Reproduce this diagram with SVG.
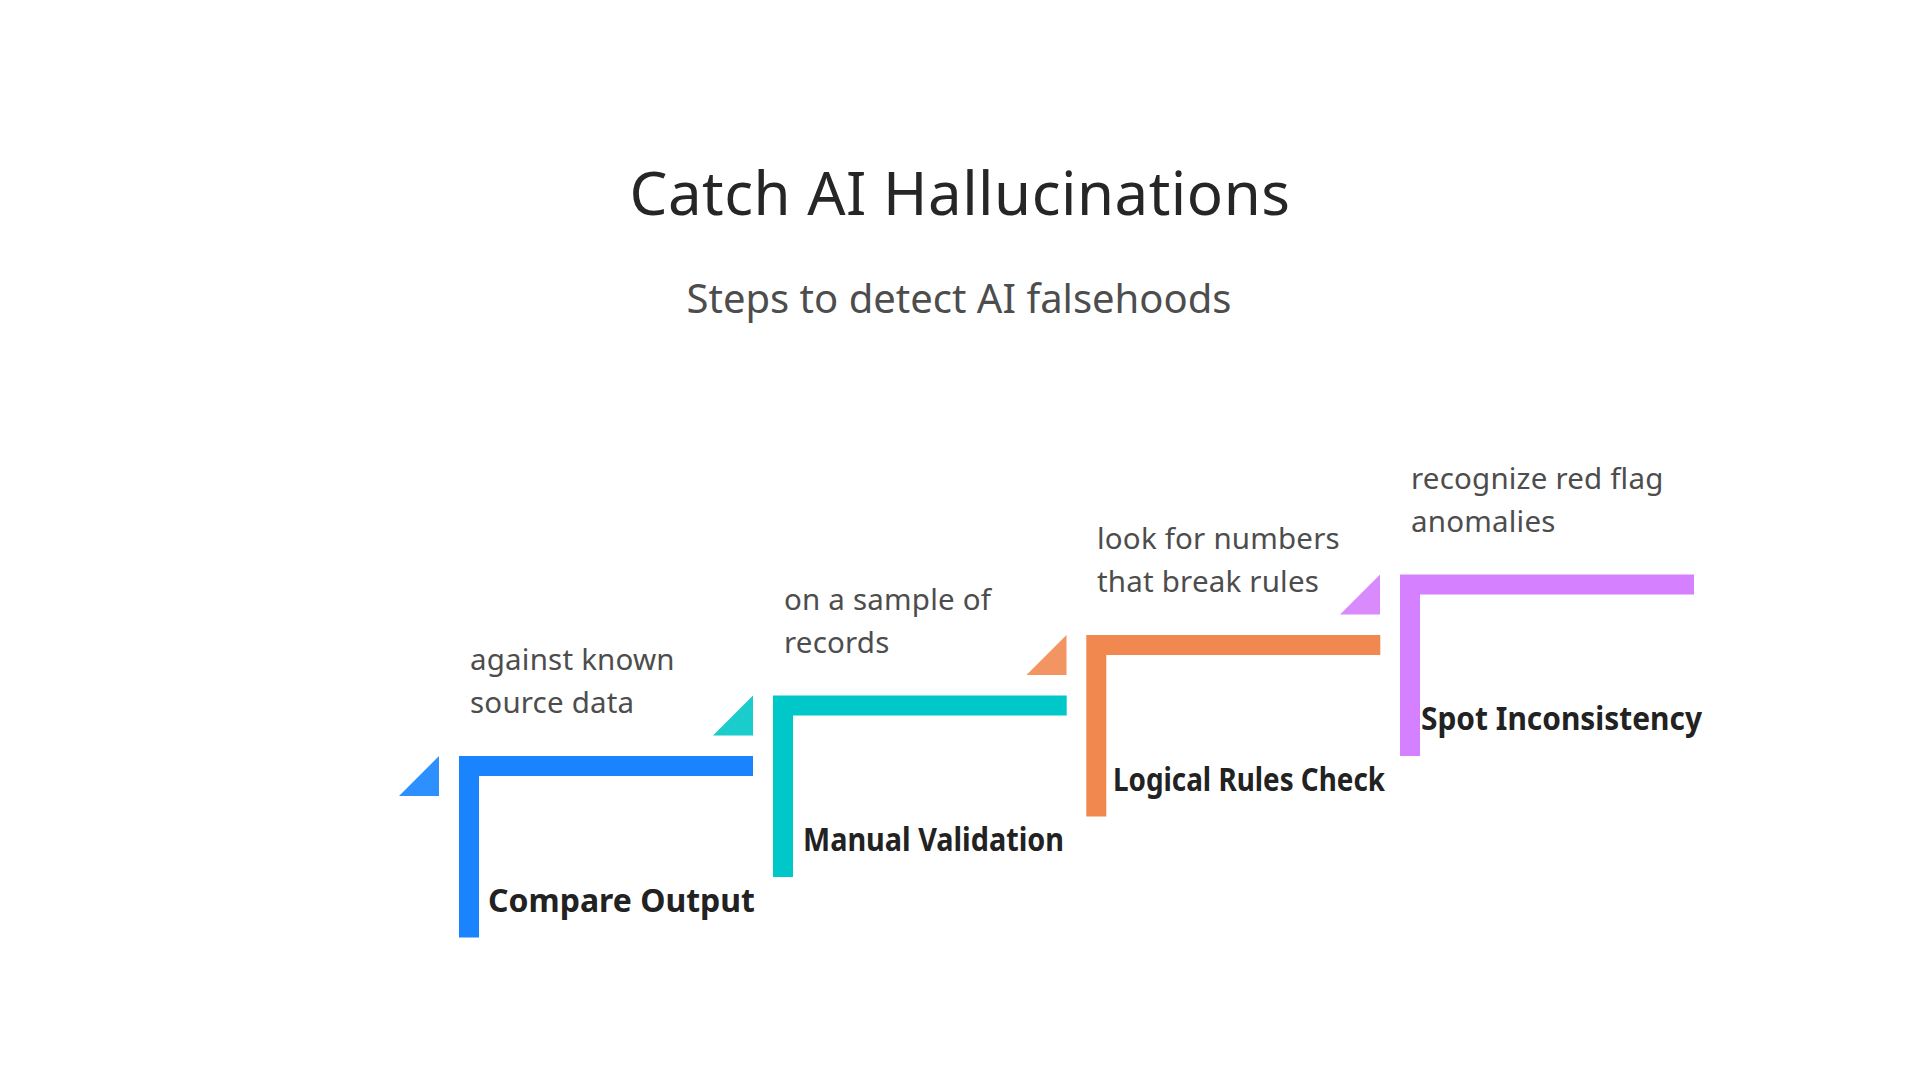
<svg xmlns="http://www.w3.org/2000/svg" width="1920" height="1080" viewBox="0 0 1920 1080">
<style>
.title{font-family:"Noto Sans","Open Sans",sans-serif;font-size:60px;fill:#262626;text-anchor:middle;letter-spacing:0.5px}
.sub{font-family:"Noto Sans","Open Sans",sans-serif;font-size:40px;fill:#4d4d4d;text-anchor:middle}
.desc{font-family:"Noto Sans","Open Sans",sans-serif;font-size:29.5px;fill:#4d4d4d;letter-spacing:0.2px}
.lbl{font-family:"Noto Sans","Open Sans",sans-serif;font-size:32px;font-weight:bold;fill:#222}
</style>
<rect width="1920" height="1080" fill="#ffffff"/>
<text class="title" x="960" y="215">Catch AI Hallucinations</text>
<text class="sub" x="959" y="313">Steps to detect AI falsehoods</text>

<g id="step1">
<polygon points="439,756 439,796 399,796" fill="#2E8FFF"/>
<path d="M459,937.5 V756 H753 V776 H479 V937.5 Z" fill="#1A84FF"/>
<text class="desc" x="470" y="670">against known</text>
<text class="desc" x="470" y="713">source data</text>
<text class="lbl" x="488" y="912" textLength="267" lengthAdjust="spacingAndGlyphs">Compare Output</text>
</g>

<g id="step2">
<polygon points="753,695.5 753,735.5 713,735.5" fill="#1ACCCC"/>
<path d="M773,877 V695.5 H1066.7 V715.5 H793 V877 Z" fill="#00C8C8"/>
<text class="desc" x="784" y="610">on a sample of</text>
<text class="desc" x="784" y="653">records</text>
<text class="lbl" x="803" y="851" textLength="261" lengthAdjust="spacingAndGlyphs">Manual Validation</text>
</g>

<g id="step3">
<polygon points="1066.5,635 1066.5,675 1026.5,675" fill="#F29563"/>
<path d="M1086.3,816.5 V635 H1380.3 V655 H1106.3 V816.5 Z" fill="#F0884F"/>
<text class="desc" x="1097" y="549">look for numbers</text>
<text class="desc" x="1097" y="592">that break rules</text>
<text class="lbl" x="1113" y="791" textLength="272" lengthAdjust="spacingAndGlyphs">Logical Rules Check</text>
</g>

<g id="step4">
<polygon points="1380,574.5 1380,614.5 1340,614.5" fill="#D98BFC"/>
<path d="M1400,756 V574.5 H1694 V594.5 H1420 V756 Z" fill="#D580FF"/>
<text class="desc" x="1411" y="489">recognize red flag</text>
<text class="desc" x="1411" y="532">anomalies</text>
<text class="lbl" x="1421" y="730" textLength="281" lengthAdjust="spacingAndGlyphs">Spot Inconsistency</text>
</g>

<g id="connectors"></g>
</svg>
